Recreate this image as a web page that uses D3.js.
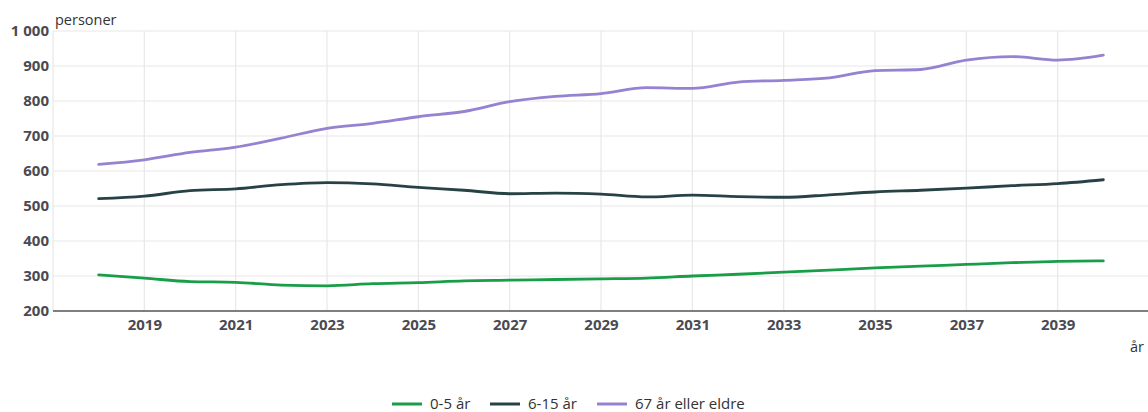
<!DOCTYPE html>
<html>
<head>
<meta charset="utf-8">
<script src="https://cdn.jsdelivr.net/npm/d3@7"></script>
<style>
  html, body { margin: 0; padding: 0; background: #fff; }
  svg { display: block; font-family: "Open Sans", "Liberation Sans", sans-serif; }
</style>
</head>
<body>
<svg id="chart" width="1148" height="412"></svg>
<script>
const years = [2018,2019,2020,2021,2022,2023,2024,2025,2026,2027,2028,2029,2030,2031,2032,2033,2034,2035,2036,2037,2038,2039,2040];
const age0to5 = [303,294,284,282,274,272,278,281,286,288,290,292,294,300,305,311,317,323,328,333,338,342,343];
const age6to15 = [521,528,544,549,561,567,563,553,545,535,537,534,526,531,527,525,532,540,545,551,558,564,575];
const age67plus = [619,632,653,668,694,722,736,755,770,798,813,821,838,836,854,859,866,887,890,917,927,917,931];
const seriesNames = ["0-5 år", "6-15 år", "67 år eller eldre"];
const seriesColors = ["#1a9d49", "#274247", "#9582d0"];
const yTicks = [200,300,400,500,600,700,800,900,1000];
const xTicks = [2019,2021,2023,2025,2027,2029,2031,2033,2035,2037,2039];

const svg = d3.select("#chart");
const mLeft = 53, mRight = 1149, mTop = 31, mBottom = 311;
const x = d3.scaleLinear().domain([2017, 2041]).range([mLeft, mRight]);
const y = d3.scaleLinear().domain([200, 1000]).range([mBottom, mTop]);
const fmt = v => d3.format(",")(v).replace(/,/g, " ");

// horizontal gridlines
svg.append("g").selectAll("line").data(yTicks.filter(t => t > 200)).join("line")
  .attr("x1", mLeft).attr("x2", 1148)
  .attr("y1", d => y(d)).attr("y2", d => y(d))
  .attr("stroke", "#e8e8e8").attr("stroke-width", 1.2);
// vertical gridlines
svg.append("g").selectAll("line").data([2017].concat(xTicks)).join("line")
  .attr("x1", d => x(d)).attr("x2", d => x(d))
  .attr("y1", mTop).attr("y2", mBottom)
  .attr("stroke", "#e8e8e8").attr("stroke-width", 1.2);

// x axis
const xAxis = svg.append("g").attr("transform", `translate(0,${mBottom})`)
  .call(d3.axisBottom(x).tickValues(xTicks).tickFormat(d3.format("d")).tickSize(0).tickPadding(8));
xAxis.select(".domain").attr("stroke", "#555").attr("stroke-width", 1.5).attr("d", `M${mLeft},0H1148`);
xAxis.selectAll("text").attr("font-size", 15).attr("font-weight", "bold").attr("fill", "#4a4a52")
  .attr("font-family", "'Open Sans', sans-serif");

// y axis
const yAxis = svg.append("g").attr("transform", `translate(${mLeft},0)`)
  .call(d3.axisLeft(y).tickValues(yTicks).tickFormat(fmt).tickSize(0).tickPadding(4));
yAxis.select(".domain").remove();
yAxis.selectAll("text").attr("font-size", 15).attr("font-weight", "bold").attr("fill", "#4a4a52")
  .attr("font-family", "'Open Sans', sans-serif");

// axis titles
svg.append("text").attr("x", 55).attr("y", 25).text("personer")
  .attr("font-size", 14.5).attr("fill", "#333");
svg.append("text").attr("x", 1130).attr("y", 352).text("år")
  .attr("font-size", 14.5).attr("fill", "#333");

// lines
const allSeries = [age0to5, age6to15, age67plus];
const line = d3.line().x((d, i) => x(years[i])).y(d => y(d)).curve(d3.curveMonotoneX);
svg.append("g").selectAll("path").data(allSeries).join("path")
  .attr("d", d => line(d))
  .attr("fill", "none")
  .attr("stroke", (d, i) => seriesColors[i])
  .attr("stroke-width", 2.8)
  .attr("stroke-linejoin", "round").attr("stroke-linecap", "round");

// legend
const legendX = [392, 490, 597];
const lg = svg.append("g").selectAll("g").data(seriesNames).join("g")
  .attr("transform", (d, i) => `translate(${legendX[i]},404)`);
lg.append("line").attr("x1", 0).attr("x2", 30).attr("y1", 0).attr("y2", 0)
  .attr("stroke", (d, i) => seriesColors[i]).attr("stroke-width", 3);
lg.append("text").attr("x", 38).attr("y", 0).attr("dy", "0.35em").text(d => d)
  .attr("font-size", 15).attr("fill", "#333");
</script>
</body>
</html>
